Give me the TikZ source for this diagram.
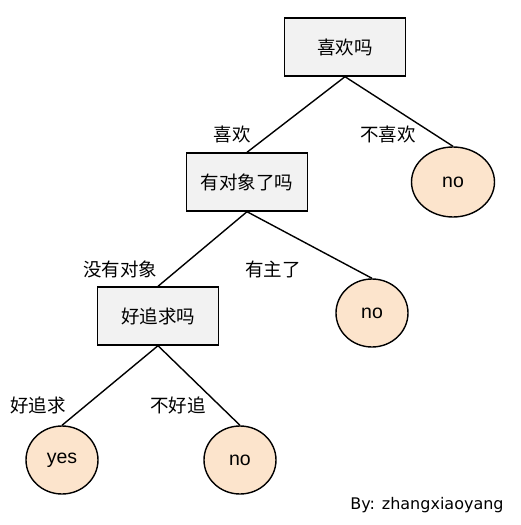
\documentclass[tikz,border=0pt]{standalone}
\usepackage{fontspec}
\setmainfont{Liberation Sans}
\newfontfamily\cjk{Noto Sans CJK SC}
\newfontfamily\signfont{DejaVu Sans}
\usepackage{xcolor}
\definecolor{boxgray}{HTML}{F2F2F2}
\definecolor{leafpeach}{HTML}{FCE4CC}
\usetikzlibrary{shapes.geometric}
\tikzset{
	question/.style={draw, line width=1.4pt, fill=boxgray, minimum width=121pt, minimum height=58pt, font=\cjk\fontsize{18.5}{20}\selectfont},
	leaf/.style={draw, line width=1.4pt, fill=leafpeach, ellipse, minimum width=72pt, minimum height=68pt, inner sep=0pt, font=\fontsize{19.5}{22}\selectfont},
	branch/.style={font=\cjk\fontsize{18.5}{20}\selectfont},
	edge/.style={line width=1.4pt}
}

\begin{document}
\begin{tikzpicture}[x=1pt, y=-1pt]
			\useasboundingbox (0,0) rectangle (520,525);
			\node[question] (like) at (345,47) {喜欢吗};
			\node[question] (partner) at (247,182) {有对象了吗};
			\node[question] (easy) at (158,316) {好追求吗};
			\node[leaf, minimum width=83pt, minimum height=70pt] (noLike) at (453,182) {no};
			\node[leaf] (noTaken) at (372,313) {no};
			\node[leaf] (yes) at (62,460) {yes};
			\node[leaf] (noHard) at (240,460) {no};
			\draw[edge] (like.south) -- (partner.north);
			\draw[edge] (like.south) -- (noLike.north);
			\draw[edge] (partner.south) -- (easy.north);
			\draw[edge] (partner.south) -- (noTaken.north);
			\draw[edge] (easy.south) -- (yes.north);
			\draw[edge] (easy.south) -- (noHard.north);
			\node[branch] (lblLike) at (232,134) {喜欢};
			\node[branch] (lblNoLike) at (388,134) {不喜欢};
			\node[branch] (lblSingle) at (120,269) {没有对象};
			\node[branch] (lblTaken) at (273,269) {有主了};
			\node[branch] (lblEasy) at (38,405) {好追求};
			\node[branch] (lblHard) at (178,405) {不好追};
			\node[font=\signfont\fontsize{16}{18}\selectfont] (sign) at (427,505) {By: zhangxiaoyang};
		\end{tikzpicture}
\end{document}
